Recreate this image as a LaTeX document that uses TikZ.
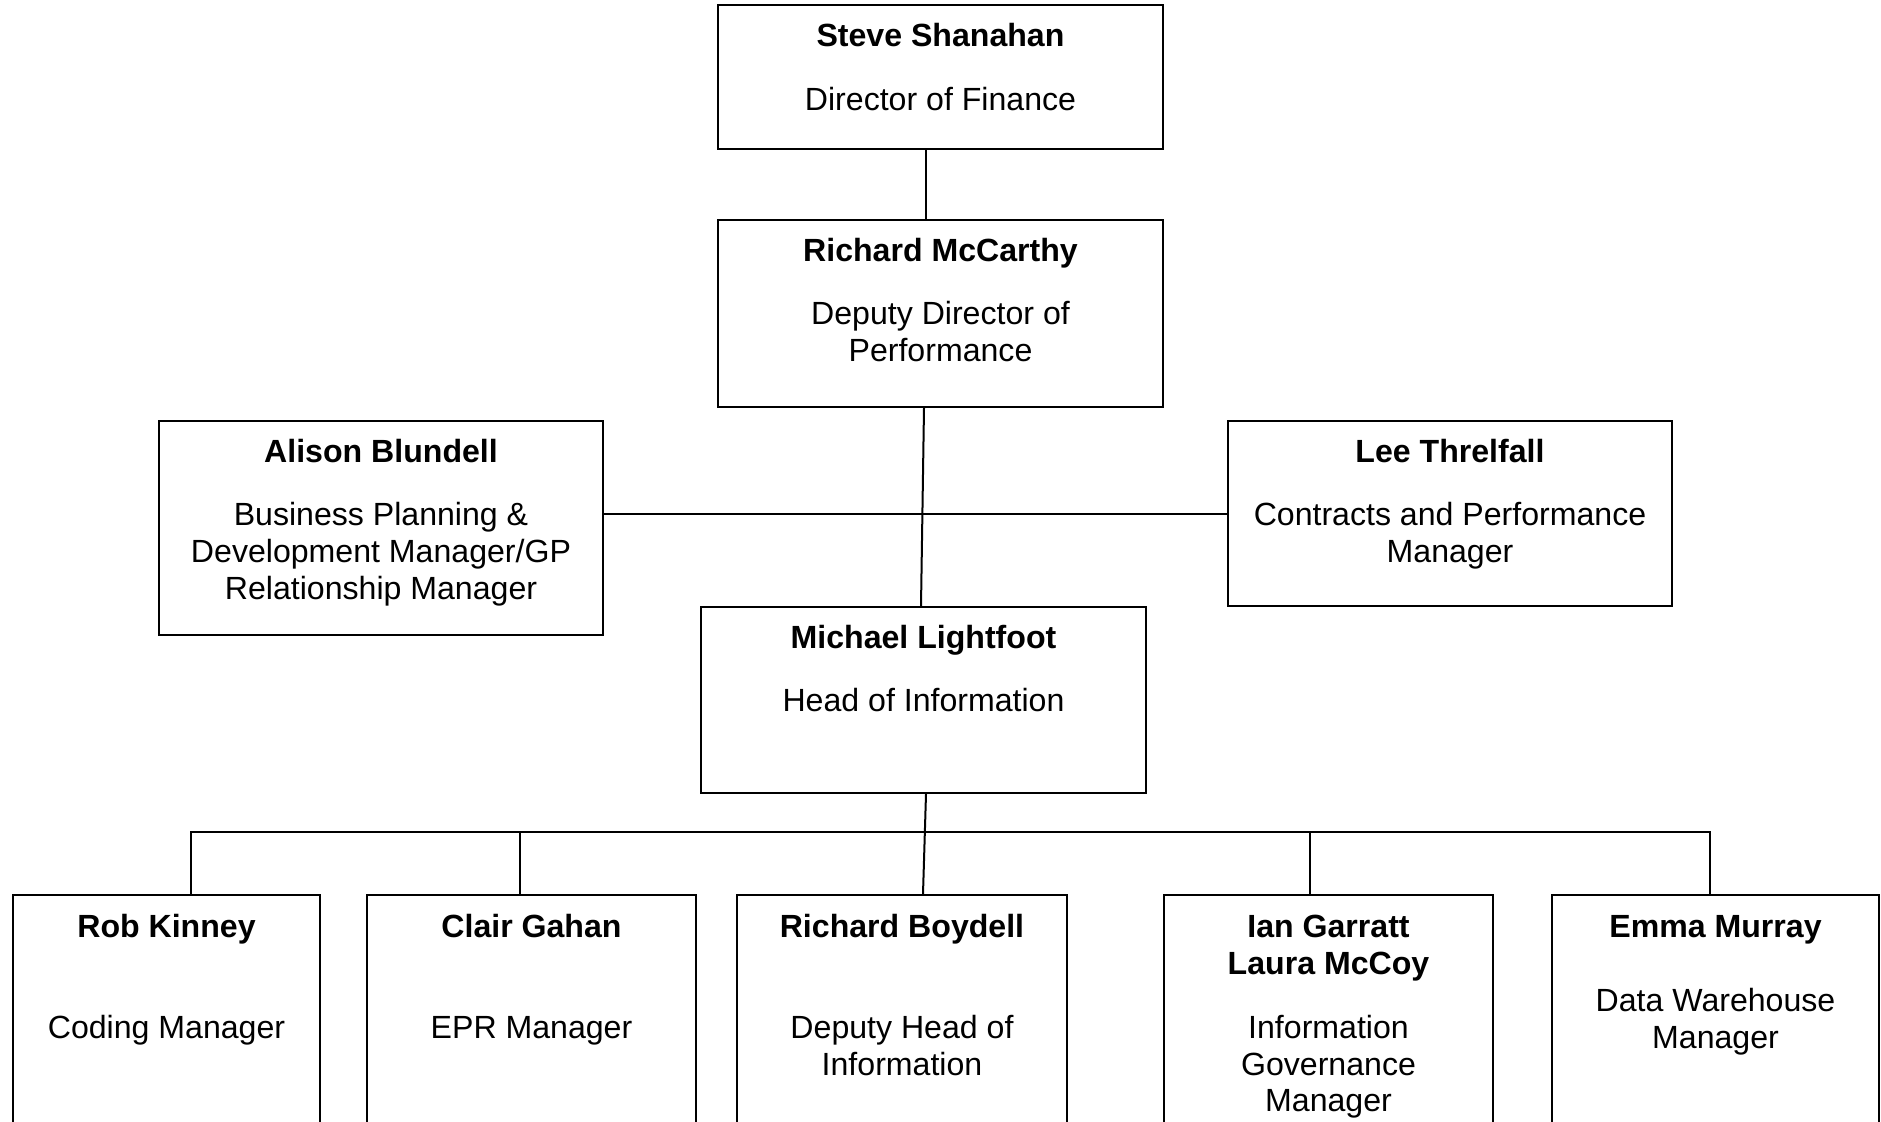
\documentclass[tikz,border=0pt]{standalone}
\usepackage{fontspec}
\setmainfont{Liberation Sans}
\begin{document}
\begin{tikzpicture}[x=0.5pt,y=-0.5pt,
  box/.style={draw, line width=1pt, inner sep=0pt, rectangle},
  txt/.style={anchor=base, inner sep=0pt, font=\fontsize{16.05}{18.5}\selectfont},
  nm/.style={txt, font=\fontsize{16.05}{18.5}\selectfont\bfseries},
  link/.style={line width=1pt}]
\useasboundingbox (0,0) rectangle (1881,1121);
\clip (0,0) rectangle (1881,1121);
\fill[white] (0,0) rectangle (1881,1121);

% boxes
\node[box, minimum width=222.5pt, minimum height=72pt] (ss) at (940.5,77) {};
\node[box, minimum width=222.5pt, minimum height=93.5pt] (rm) at (940.5,313.5) {};
\node[box, minimum width=222pt, minimum height=107pt] (ab) at (381,528) {};
\node[box, minimum width=222pt, minimum height=92.5pt] (lt) at (1450,513.5) {};
\node[box, minimum width=222.5pt, minimum height=93pt] (ml) at (923.5,700) {};
\node[box, minimum width=153.5pt, minimum height=152.5pt] (rk) at (166.5,1047.5) {};
\node[box, minimum width=164.5pt, minimum height=152.5pt] (cg) at (531.5,1047.5) {};
\node[box, minimum width=165pt, minimum height=152.5pt] (rb) at (902,1047.5) {};
\node[box, minimum width=164.5pt, minimum height=152.5pt] (ig) at (1328.5,1047.5) {};
\node[box, minimum width=163.5pt, minimum height=152.5pt] (em) at (1715.5,1047.5) {};

% texts
\node[nm] (ss1) at (940.5,46) {Steve Shanahan};
\node[txt] (ss2) at (940.5,110) {Director of Finance};

\node[nm] (rm1) at (940.5,261) {Richard McCarthy};
\node[txt] (rm2) at (940.5,324) {Deputy Director of};
\node[txt] (rm3) at (940.5,361) {Performance};

\node[nm] (ab1) at (381,462) {Alison Blundell};
\node[txt] (ab2) at (381,525) {Business Planning \&};
\node[txt] (ab3) at (381,562) {Development Manager/GP};
\node[txt] (ab4) at (381,599) {Relationship Manager};

\node[nm] (lt1) at (1450,462) {Lee Threlfall};
\node[txt] (lt2) at (1450,525) {Contracts and Performance};
\node[txt] (lt3) at (1450,562) {Manager};

\node[nm] (ml1) at (923.5,648) {Michael Lightfoot};
\node[txt] (ml2) at (923.5,711) {Head of Information};

\node[nm] (rk1) at (166.5,937) {Rob Kinney};
\node[txt] (rk2) at (166.5,1038) {Coding Manager};

\node[nm] (cg1) at (531.5,937) {Clair Gahan};
\node[txt] (cg2) at (531.5,1038) {EPR Manager};

\node[nm] (rb1) at (902,937) {Richard Boydell};
\node[txt] (rb2) at (902,1038) {Deputy Head of};
\node[txt] (rb3) at (902,1075) {Information};

\node[nm] (ig1) at (1328.5,937) {Ian Garratt};
\node[nm] (ig2) at (1328.5,974) {Laura McCoy};
\node[txt] (ig3) at (1328.5,1038) {Information};
\node[txt] (ig4) at (1328.5,1075) {Governance};
\node[txt] (ig5) at (1328.5,1111) {Manager};

\node[nm] (em1) at (1715.5,937) {Emma Murray};
\node[txt] (em2) at (1715.5,1011) {Data Warehouse};
\node[txt] (em3) at (1715.5,1048) {Manager};

% connectors
\draw[link] ([xshift=-7.25pt]ss.south) -- ([xshift=-7.25pt]rm.north);
\draw[link] ([xshift=-8.25pt]rm.south) -- ([xshift=-1.25pt]ml.north);
\draw[link] (ab.east |- lt.west) -- (lt.west);

\coordinate (busy) at (0,832);
\coordinate (rkT) at ([xshift=12.25pt]rk.north);
\coordinate (cgT) at ([xshift=-5.75pt]cg.north);
\coordinate (rbT) at ([xshift=10.5pt]rb.north);
\coordinate (igT) at ([xshift=-9.25pt]ig.north);
\coordinate (emT) at ([xshift=-2.75pt]em.north);
\coordinate (mlB) at ([xshift=1.25pt]ml.south);

\draw[link] (rkT) -- (rkT |- busy) -- (emT |- busy) -- (emT);
\draw[link] (cgT) -- (cgT |- busy);
\draw[link] (igT) -- (igT |- busy);
\draw[link] (mlB) -- (rbT);
\end{tikzpicture}
\end{document}
